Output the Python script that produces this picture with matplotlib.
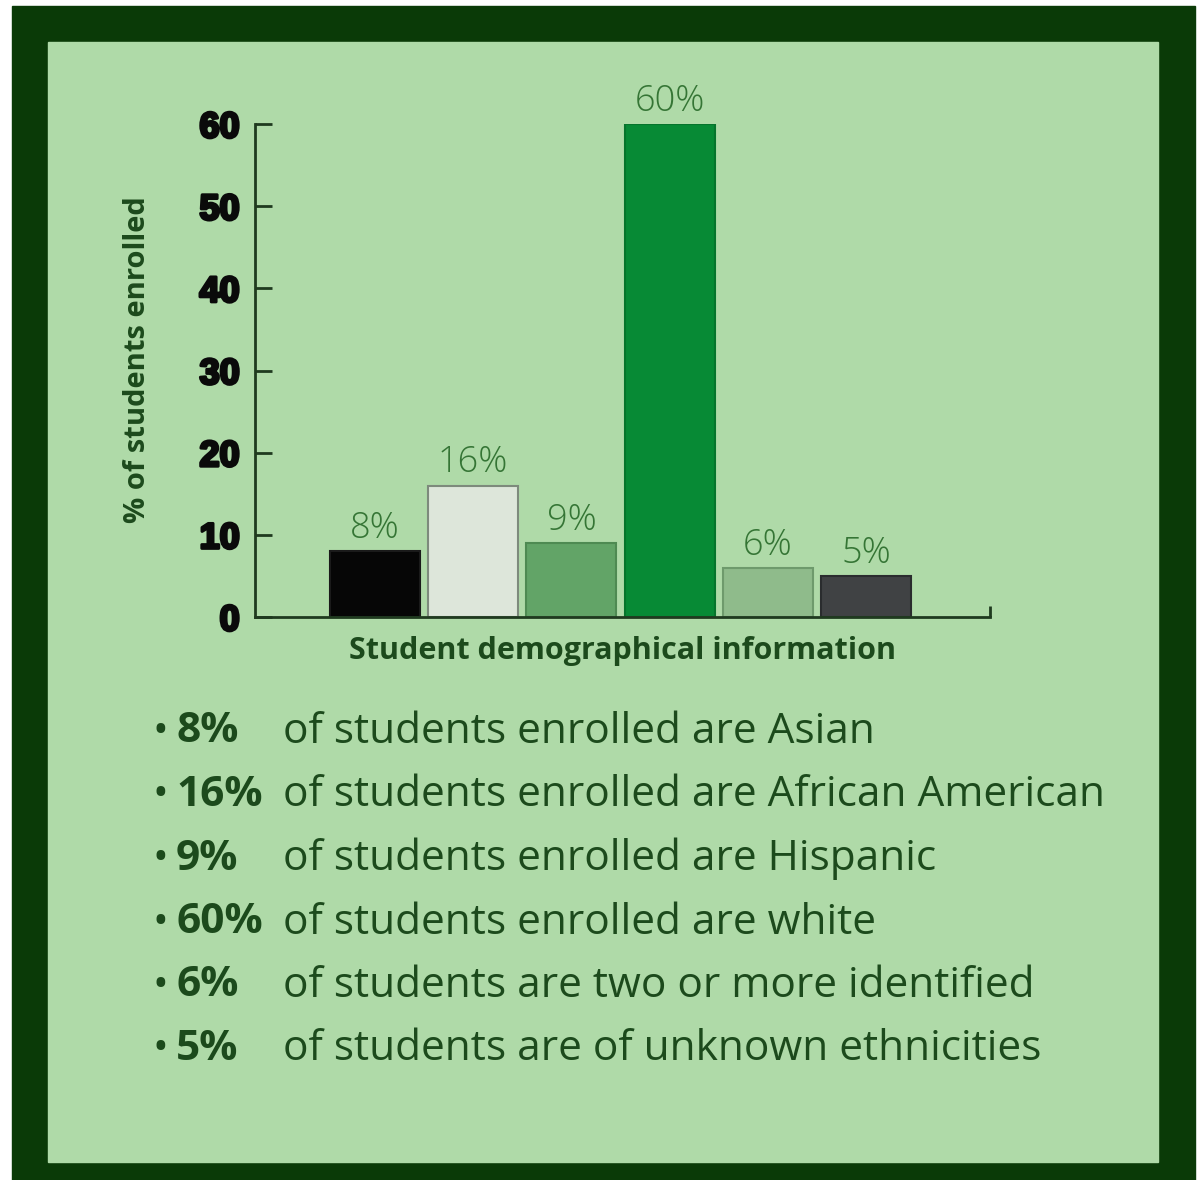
import matplotlib.pyplot as plt
import matplotlib.patheffects as pe
from matplotlib.patches import Rectangle

# data
groups = ['Asian', 'African American', 'Hispanic', 'White', 'Two or more', 'Unknown']
values = [8, 16, 9, 60, 6, 5]
bar_colors = ['#060606', '#dde6da', '#62a467', '#078a35', '#8fbb8b', '#404244']
edge_colors = ['#1a1a1a', '#7d8a7c', '#4e8a52', '#06742c', '#6e9a6c', '#2a2c2e']
yticks = [0, 10, 20, 30, 40, 50, 60]
pct_text = ['8%', '16%', '9%', '60%', '6%', '5%']
sentences = ['of students enrolled are Asian',
             'of students enrolled are African American',
             'of students enrolled are Hispanic',
             'of students enrolled are white',
             'of students are two or more identified',
             'of students are of unknown ethnicities']

W, H = 1199, 1180
DARK = '#0a3a07'
LIGHT = '#afdaa8'
TXT = '#1c4a1c'

fig = plt.figure(figsize=(W / 100, H / 100), dpi=100)
fig.patch.set_facecolor('white')

# frame
fig.patches.append(Rectangle((12 / W, 0), (1195 - 12) / W, 1 - 6 / H,
                             transform=fig.transFigure, color=DARK, zorder=-10))
fig.patches.append(Rectangle((48 / W, 1 - 1162 / H), (1158 - 48) / W, (1162 - 42) / H,
                             transform=fig.transFigure, color=LIGHT, zorder=-9))

ax = fig.add_axes([255 / W, 1 - 617 / H, 735 / W, (617 - 124) / H])
ax.set_facecolor('none')

x = list(range(len(values)))
ax.bar(x, values, width=0.917, color=bar_colors, edgecolor=edge_colors, linewidth=1.5, zorder=3)
for xi, v, t in zip(x, values, pct_text):
    ax.text(xi, v + 0.5, t, ha='center', va='bottom', fontsize=26, fontweight='light',
            family='Open Sans', color='#357535')

ax.set_xlim(-1.222, 6.263)
ax.set_ylim(0, 60)
for s in ['top', 'right']:
    ax.spines[s].set_visible(False)
for s in ['left', 'bottom']:
    ax.spines[s].set_color('#1f3a1f')
    ax.spines[s].set_linewidth(2)
    ax.spines[s].set_zorder(4)

ax.set_yticks(yticks)
ax.set_yticklabels([str(t) for t in yticks], fontsize=26, fontweight='bold',
                   family='Liberation Sans', color='#0a0a0a')
for lab in ax.get_yticklabels():
    lab.set_path_effects([pe.Stroke(linewidth=2.2, foreground='#0a0a0a'), pe.Normal()])
ax.tick_params(axis='y', direction='in', length=12, width=2, color='#1f3a1f', pad=11)
ax.set_xticks([6.263])
ax.set_xticklabels([''])
ax.tick_params(axis='x', direction='in', length=8, width=2, color='#1f3a1f')

ax.set_ylabel('% of students enrolled', fontsize=21, fontweight='bold',
              family='Open Sans', color=TXT)
ax.yaxis.set_label_coords(-0.140, 0.523)
ax.set_xlabel('Student demographical information', fontsize=22, fontweight='bold',
              family='Open Sans', color=TXT, labelpad=10)

# bullet list
y0 = 732
for i, (p, s) in enumerate(zip(pct_text, sentences)):
    yy = 1 - (y0 + i * 63.5) / H
    fig.text(160 / W, yy, '•', fontsize=30, color=TXT, family='Open Sans', va='center', ha='center')
    fig.text(176 / W, yy, p, fontsize=30.5, fontweight='bold', color=TXT, family='Open Sans',
             va='center', ha='left')
    fig.text(283 / W, yy, s, fontsize=30.5, color=TXT, family='Open Sans', va='center', ha='left')

fig.savefig('out.png', dpi=100, facecolor=fig.get_facecolor())
